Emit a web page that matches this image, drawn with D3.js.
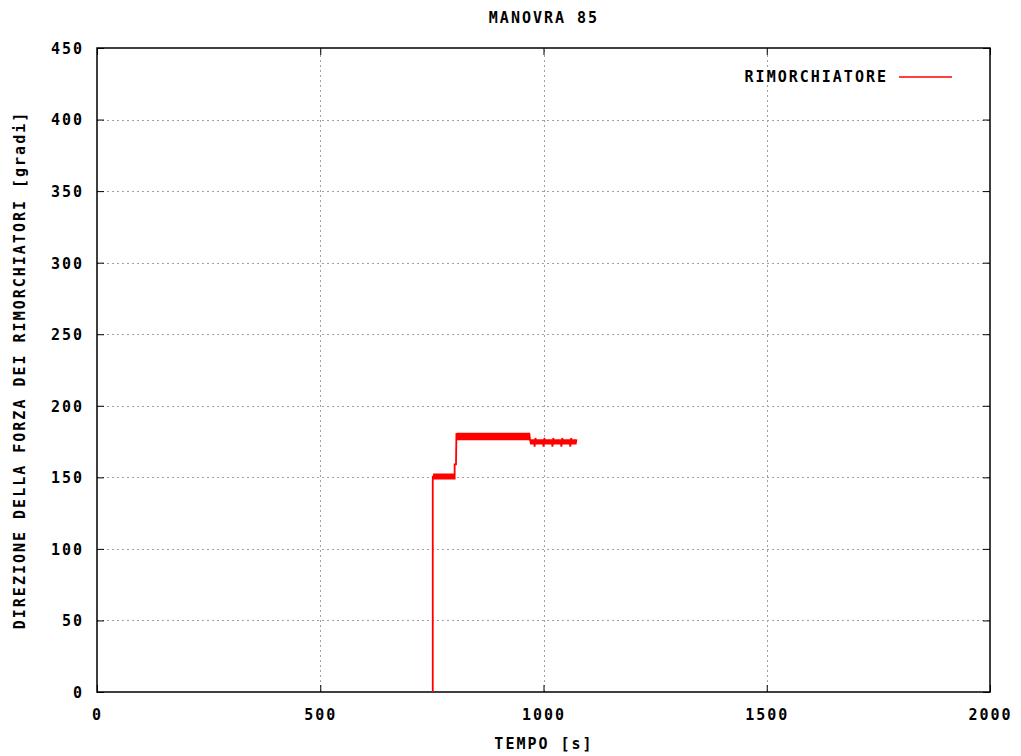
<!DOCTYPE html>
<html>
<head>
<meta charset="utf-8">
<script src="https://cdn.jsdelivr.net/npm/d3@7"></script>
<style>
  html, body { margin: 0; padding: 0; background: #fff; }
  svg text { font-family: "DejaVu Sans Mono", monospace; font-weight: bold; font-size: 15px; letter-spacing: 2px; fill: #000; }
</style>
</head>
<body>
<svg id="chart" width="1021" height="756"></svg>
<script>
// Axis ticks
const xTicks = [0, 500, 1000, 1500, 2000];
const yTicks = [0, 50, 100, 150, 200, 250, 300, 350, 400, 450];

// Tug force direction over time (s, degrees)
const tempo = [
  752, 752, 753, 755, 757, 759, 761, 763, 765, 767,
  769, 771, 773, 775, 777, 779, 781, 783, 785, 787,
  789, 791, 793, 795, 797, 799, 801, 801, 804, 805,
  806, 808, 810, 812, 814, 816, 818, 820, 822, 824,
  826, 828, 830, 832, 834, 836, 838, 840, 842, 844,
  846, 848, 850, 852, 854, 856, 858, 860, 862, 864,
  866, 868, 870, 872, 874, 876, 878, 880, 882, 884,
  886, 888, 890, 892, 894, 896, 898, 900, 902, 904,
  906, 908, 910, 912, 914, 916, 918, 920, 922, 924,
  926, 928, 930, 932, 934, 936, 938, 940, 942, 944,
  946, 948, 950, 952, 954, 956, 958, 960, 962, 964,
  966, 968, 970,
  972, 974, 976, 978, 980, 982, 984, 986, 988, 990,
  992, 994, 996, 998, 1000, 1002, 1004, 1006, 1008, 1010,
  1012, 1014, 1016, 1018, 1020, 1022, 1024, 1026, 1028, 1030,
  1032, 1034, 1036, 1038, 1040, 1042, 1044, 1046, 1048, 1050,
  1052, 1054, 1056, 1058, 1060, 1062, 1064, 1066, 1068, 1070,
  1072, 1074
];
const direzione = [
  0, 151, 148.5, 152.5, 148.5, 152.5, 148.5, 152.5, 148.5, 152.5,
  148.5, 152.5, 148.5, 152.5, 148.5, 152.5, 148.5, 152.5, 148.5, 152.5,
  148.5, 152.5, 148.5, 152.5, 148.5, 152.5, 148.5, 159, 159, 181,
  176, 181, 176, 181, 176, 181, 176, 181, 176, 181,
  176, 181, 176, 181, 176, 181, 176, 181, 176, 181,
  176, 181, 176, 181, 176, 181, 176, 181, 176, 181,
  176, 181, 176, 181, 176, 181, 176, 181, 176, 181,
  176, 181, 176, 181, 176, 181, 176, 181, 176, 181,
  176, 181, 176, 181, 176, 181, 176, 181, 176, 181,
  176, 181, 176, 181, 176, 181, 176, 181, 176, 181,
  176, 181, 176, 181, 176, 181, 176, 181, 176, 181,
  176, 181, 176,
  173, 176.5, 173, 176.5, 171.5, 177.5, 173, 176.5, 173, 176.5,
  173, 176.5, 173, 176.5, 171.5, 177.5, 173, 176.5, 173, 176.5,
  173, 176.5, 173, 176.5, 171.5, 177.5, 173, 176.5, 173, 176.5,
  173, 176.5, 173, 176.5, 171.5, 177.5, 173, 176.5, 173, 176.5,
  173, 176.5, 173, 176.5, 171.5, 177.5, 173, 176.5, 173, 176.5,
  173, 176.5
];

const serie = tempo.map((t, i) => ({ t, v: direzione[i] }));

const svg = d3.select("#chart");
const mLeft = 97, mRight = 990, mTop = 48, mBottom = 692;

const x = d3.scaleLinear().domain([0, 2000]).range([mLeft, mRight]);
const y = d3.scaleLinear().domain([0, 450]).range([mBottom, mTop]);

// Dotted grid
const grid = svg.append("g")
  .attr("stroke", "#a0a0a0")
  .attr("stroke-width", 1)
  .attr("stroke-dasharray", "2,3");
grid.selectAll("line.gx")
  .data(xTicks.filter(d => d > 0 && d < 2000))
  .join("line")
  .attr("class", "gx")
  .attr("x1", d => Math.round(x(d)) + 0.5).attr("x2", d => Math.round(x(d)) + 0.5)
  .attr("y1", mBottom).attr("y2", mTop);
grid.selectAll("line.gy")
  .data(yTicks.filter(d => d > 0 && d < 450))
  .join("line")
  .attr("class", "gy")
  .attr("y1", d => Math.round(y(d)) + 0.5).attr("y2", d => Math.round(y(d)) + 0.5)
  .attr("x1", mLeft).attr("x2", mRight);

// Axes with inward ticks, mirrored on the opposite borders
const tickLen = 7;
const fmt = d3.format("d");
function styleAxis(g, showLabels) {
  g.select(".domain").remove();
  g.selectAll(".tick line").attr("stroke", "#000").attr("stroke-width", 1);
  if (!showLabels) g.selectAll(".tick text").remove();
  else g.selectAll(".tick text").attr("fill", "#000");
  g.attr("font-size", null).attr("font-family", null);
}

svg.append("g")
  .attr("transform", `translate(0,${mBottom})`)
  .call(d3.axisBottom(x).tickValues(xTicks).tickFormat(fmt).tickSizeInner(-tickLen).tickSizeOuter(0))
  .call(g => styleAxis(g, true))
  .call(g => g.selectAll(".tick text").attr("dy", null).attr("y", 28));

svg.append("g")
  .attr("transform", `translate(0,${mTop})`)
  .call(d3.axisTop(x).tickValues(xTicks).tickSizeInner(-tickLen).tickSizeOuter(0))
  .call(g => styleAxis(g, false));

svg.append("g")
  .attr("transform", `translate(${mLeft},0)`)
  .call(d3.axisLeft(y).tickValues(yTicks).tickFormat(fmt).tickSizeInner(-tickLen).tickSizeOuter(0))
  .call(g => styleAxis(g, true))
  .call(g => g.selectAll(".tick text").attr("x", -13).attr("dy", "0.36em"));

svg.append("g")
  .attr("transform", `translate(${mRight},0)`)
  .call(d3.axisRight(y).tickValues(yTicks).tickSizeInner(-tickLen).tickSizeOuter(0))
  .call(g => styleAxis(g, false));

// Plot border
svg.append("rect")
  .attr("x", mLeft).attr("y", mTop)
  .attr("width", mRight - mLeft).attr("height", mBottom - mTop)
  .attr("fill", "none").attr("stroke", "#000").attr("stroke-width", 1.5);

// Data line
const line = d3.line().x(d => x(d.t)).y(d => y(d.v));
svg.append("path")
  .datum(serie)
  .attr("fill", "none")
  .style("stroke", "#ff0000")
  .attr("stroke-width", 1.8)
  .attr("d", line);

// Legend
svg.append("text")
  .attr("x", 888).attr("y", 82)
  .attr("text-anchor", "end")
  .text("RIMORCHIATORE");
svg.append("line")
  .attr("x1", 899).attr("x2", 952)
  .attr("y1", 77).attr("y2", 77)
  .style("stroke", "#ff0000")
  .style("stroke-width", 1.6);

// Titles
svg.append("text")
  .attr("x", 544).attr("y", 23)
  .attr("text-anchor", "middle")
  .text("MANOVRA 85");

svg.append("text")
  .attr("x", 544).attr("y", 749)
  .attr("text-anchor", "middle")
  .text("TEMPO [s]");

svg.append("text")
  .attr("transform", `translate(25,${(mTop + mBottom) / 2}) rotate(-90)`)
  .attr("text-anchor", "middle")
  .text("DIREZIONE DELLA FORZA DEI RIMORCHIATORI [gradi]");
</script>
</body>
</html>
